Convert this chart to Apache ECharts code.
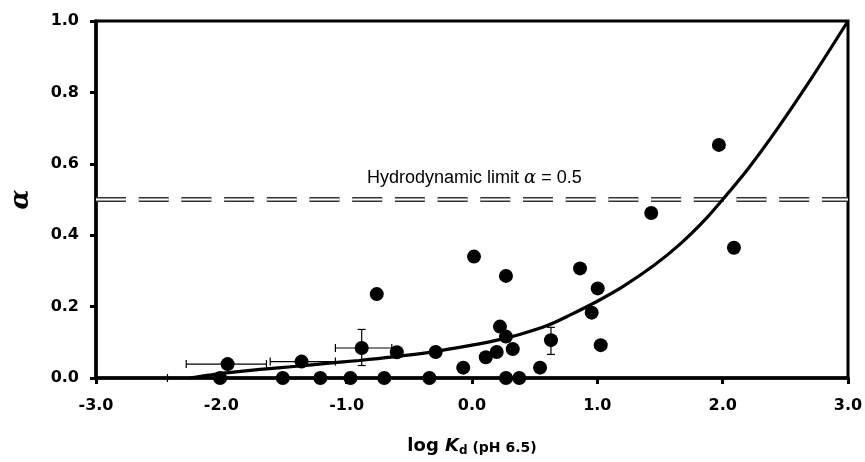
<!DOCTYPE html>
<html><head><meta charset="utf-8">
<script src="https://cdn.jsdelivr.net/npm/echarts@6/dist/echarts.min.js"></script>
<style>html,body{margin:0;padding:0;background:#fff}#c{width:865px;height:462px}</style>
</head><body><div id="c"></div>
<script>
// Data points [log Kd, alpha]
const pointsX = [-2.01,-1.95,-1.51,-1.36,-1.21,-0.97,-0.88,-0.76,-0.70,-0.60,-0.34,-0.29,-0.07,0.016,0.11,0.197,0.223,0.271,0.271,0.271,0.325,0.377,0.543,0.63,0.862,0.955,1.003,1.027,1.43,1.97,2.09];
const pointsY = [0.0,0.039,0.0,0.046,0.0,0.0,0.084,0.235,0.0,0.072,0.0,0.073,0.029,0.34,0.058,0.073,0.144,0.286,0.116,0.0,0.081,0.0,0.029,0.106,0.307,0.183,0.251,0.092,0.462,0.653,0.365];
// Fitted curve
const curveX = [-2.25,-2.1,-2.0,-1.69,-1.4,-1.16,-0.9,-0.63,-0.3,0.0,0.2,0.38,0.6,0.78,1.0,1.2,1.45,1.66,1.85,2.0,2.2,2.43,2.7,3.0];
const curveY = [0.0,0.008,0.013,0.024,0.033,0.041,0.049,0.059,0.074,0.092,0.106,0.122,0.147,0.176,0.215,0.255,0.315,0.375,0.44,0.50,0.585,0.695,0.835,1.0];
// Horizontal error bars [x, y, xLow, xHigh]
const errXBars = [[-2.01,0.0,-2.43,-1.55],[-1.95,0.039,-2.28,-1.64],[-1.36,0.046,-1.61,-1.09],[-0.88,0.084,-1.09,-0.64]];
// Vertical error bars [x, y, yLow, yHigh]
const errYBars = [[-0.88,0.084,0.035,0.136],[0.63,0.106,0.066,0.142]];
const limitX = [-3, 3];
const limitY = 0.5;
const xTicks = {min:-3, max:3, interval:1};
const yTicks = {min:0, max:1, interval:0.2};

const chart = echarts.init(document.getElementById('c'));
const tickFont = {fontFamily:'DejaVu Sans', fontWeight:'bold', fontSize:16, color:'#000'};
const dash = [30, 12.7];
chart.setOption({
  animation:false,
  backgroundColor:'#fff',
  grid:{left:96, right:17, top:21, bottom:84, show:true, borderColor:'#000', borderWidth:3, outerBoundsMode:'none', containLabel:false},
  xAxis:{type:'value', min:xTicks.min, max:xTicks.max, interval:xTicks.interval,
    axisLine:{onZero:false, lineStyle:{color:'#000', width:3.5}},
    axisTick:{inside:false, length:6, lineStyle:{color:'#000', width:3}},
    splitLine:{show:false},
    axisLabel:Object.assign({margin:20, formatter:v=>v.toFixed(1)}, tickFont),
    name:'{a|log }{b|K}{c|d}{e| (pH 6.5)}', nameLocation:'middle', nameGap:57,
    nameTextStyle:{rich:{
      a:{fontFamily:'DejaVu Sans', fontWeight:'bold', fontSize:18, color:'#000'},
      b:{fontFamily:'DejaVu Sans', fontWeight:'bold', fontStyle:'italic', fontSize:18, color:'#000'},
      c:{fontFamily:'DejaVu Sans', fontWeight:'bold', fontSize:12, color:'#000', verticalAlign:'bottom', padding:[10,0,0,0]},
      e:{fontFamily:'DejaVu Sans', fontWeight:'bold', fontSize:14, color:'#000', padding:[4,0,0,0]}
    }}
  },
  yAxis:{type:'value', min:yTicks.min, max:yTicks.max, interval:yTicks.interval,
    axisLine:{onZero:false, lineStyle:{color:'#000', width:3.5}},
    axisTick:{inside:false, length:6, lineStyle:{color:'#000', width:3}},
    splitLine:{show:false},
    axisLabel:Object.assign({margin:17, formatter:v=>v.toFixed(1)}, tickFont),
    name:'α', nameLocation:'middle', nameGap:62, nameRotate:90,
    nameTextStyle:{fontFamily:'DejaVu Serif', fontStyle:'italic', fontWeight:'bold', fontSize:26, color:'#000'}
  },
  series:[
    {type:'line', data:limitX.map(x=>[x,limitY]), symbol:'none', silent:true, z:1,
      lineStyle:{color:'#333', width:5, type:dash}},
    {type:'line', data:limitX.map(x=>[x,limitY]), symbol:'none', silent:true, z:1,
      lineStyle:{color:'#fff', width:2, type:dash}},
    {type:'line', data:curveX.map((x,i)=>[x,curveY[i]]), symbol:'none', smooth:0.3, z:3,
      lineStyle:{color:'#000', width:3.2}},
    {type:'custom', z:4, data:errXBars, renderItem:(p,api)=>{
      const y = api.value(1);
      const a = api.coord([api.value(2), y]), b = api.coord([api.value(3), y]);
      const s = {stroke:'#000', lineWidth:1.2};
      return {type:'group', children:[
        {type:'line', shape:{x1:a[0],y1:a[1],x2:b[0],y2:b[1]}, style:s},
        {type:'line', shape:{x1:a[0],y1:a[1]-4,x2:a[0],y2:a[1]+4}, style:s},
        {type:'line', shape:{x1:b[0],y1:b[1]-4,x2:b[0],y2:b[1]+4}, style:s}
      ]};
    }},
    {type:'custom', z:4, data:errYBars, renderItem:(p,api)=>{
      const x = api.value(0);
      const a = api.coord([x, api.value(2)]), b = api.coord([x, api.value(3)]);
      const s = {stroke:'#000', lineWidth:1.2};
      return {type:'group', children:[
        {type:'line', shape:{x1:a[0],y1:a[1],x2:b[0],y2:b[1]}, style:s},
        {type:'line', shape:{x1:a[0]-4,y1:a[1],x2:a[0]+4,y2:a[1]}, style:s},
        {type:'line', shape:{x1:b[0]-4,y1:b[1],x2:b[0]+4,y2:b[1]}, style:s}
      ]};
    }},
    {type:'scatter', data:pointsX.map((x,i)=>[x,pointsY[i]]), symbol:'circle', symbolSize:14, z:5,
      itemStyle:{color:'#000', opacity:1}, clip:false}
  ],
  graphic:[{type:'text', left:367, top:169, z:10, style:{
    text:'{n|Hydrodynamic limit }{g|α}{n| = 0.5}',
    rich:{n:{fontFamily:'Liberation Sans', fontSize:18, fill:'#000', color:'#000'},
          g:{fontFamily:'DejaVu Serif', fontStyle:'italic', fontSize:18, fill:'#000', color:'#000'}}
  }}]
});
</script></body></html>
